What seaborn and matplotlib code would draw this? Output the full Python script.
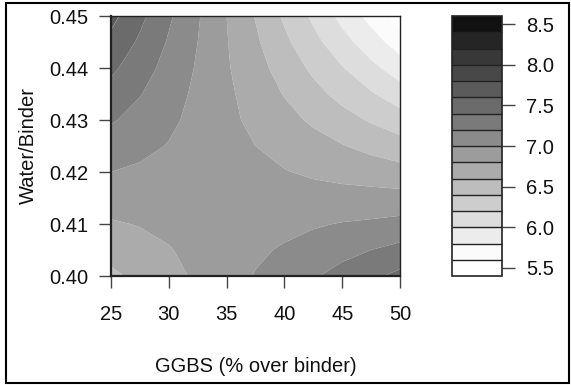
import numpy as np
import matplotlib
matplotlib.use("Agg")
import matplotlib.pyplot as plt
from matplotlib.patches import Rectangle
import seaborn as sns

# ---- data ----
ggbs = [25.0, 27.5, 30.0, 32.5, 35.0, 37.5, 40.0, 42.5, 45.0, 47.5, 50.0]
water_binder = [0.400, 0.405, 0.410, 0.415, 0.420, 0.425, 0.430, 0.435, 0.440, 0.445, 0.450]
strength = [
    [6.56, 6.65, 6.74, 6.83, 6.92, 7.01, 7.10, 7.18, 7.27, 7.36, 7.45],
    [6.67, 6.73, 6.79, 6.85, 6.91, 6.97, 7.02, 7.08, 7.14, 7.20, 7.26],
    [6.78, 6.81, 6.84, 6.87, 6.90, 6.92, 6.95, 6.98, 7.01, 7.03, 7.06],
    [6.89, 6.89, 6.89, 6.88, 6.88, 6.88, 6.88, 6.88, 6.87, 6.87, 6.87],
    [7.00, 6.97, 6.94, 6.90, 6.87, 6.84, 6.81, 6.77, 6.74, 6.71, 6.67],
    [7.11, 7.05, 6.99, 6.92, 6.86, 6.80, 6.73, 6.67, 6.61, 6.54, 6.48],
    [7.22, 7.13, 7.04, 6.94, 6.85, 6.75, 6.66, 6.57, 6.47, 6.38, 6.29],
    [7.33, 7.21, 7.08, 6.96, 6.84, 6.71, 6.59, 6.46, 6.34, 6.22, 6.09],
    [7.44, 7.29, 7.13, 6.98, 6.82, 6.67, 6.52, 6.36, 6.21, 6.05, 5.90],
    [7.55, 7.37, 7.18, 7.00, 6.81, 6.63, 6.44, 6.26, 6.07, 5.89, 5.70],
    [7.66, 7.45, 7.23, 7.02, 6.80, 6.59, 6.37, 6.16, 5.94, 5.73, 5.51],
]
levels = [5.4, 5.6, 5.8, 6.0, 6.2, 6.4, 6.6, 6.8, 7.0, 7.2, 7.4, 7.6, 7.8, 8.0, 8.2, 8.4, 8.6]
cbar_ticks = [5.5, 6.0, 6.5, 7.0, 7.5, 8.0, 8.5]
x_ticks = [25, 30, 35, 40, 45, 50]
y_ticks = [0.40, 0.41, 0.42, 0.43, 0.44, 0.45]
x_label = "GGBS (% over binder)"
y_label = "Water/Binder"

# ---- style ----
sns.set_theme(style="white")
plt.rcParams['font.family'] = ['Liberation Sans', 'DejaVu Sans']
gray_steps = [255, 251, 236, 221, 205, 189, 171, 156, 139, 122, 107, 91, 72, 56, 37, 17]
palette = sns.color_palette([(g / 255, g / 255, g / 255) for g in gray_steps])

FS = 14.5
W, H = 571, 385
fig = plt.figure(figsize=(W / 100, H / 100), dpi=100)
fig.patch.set_facecolor("white")

ax = fig.add_axes([111 / W, (H - 276) / H, 289 / W, 260 / H])
cs = ax.contourf(ggbs, water_binder, strength, levels=levels, colors=palette, antialiased=True)
ax.set_xlim(25, 50)
ax.set_ylim(0.40, 0.45)
ax.set_xticks(x_ticks)
ax.set_yticks(y_ticks)
ax.set_yticklabels([f"{t:.2f}" for t in y_ticks])
ax.tick_params(axis="both", which="major", direction="out", length=8.6, width=1.0,
               color="#444444", labelsize=FS, labelcolor="#111111", bottom=True, left=True)
ax.tick_params(axis="x", pad=12.5)
ax.tick_params(axis="y", pad=7.5)
for sp in ax.spines.values():
    sp.set_color("#222222")
    sp.set_linewidth(1.0)
ax.spines["left"].set_linewidth(1.6)
ax.spines["bottom"].set_linewidth(1.6)
ax.set_xlabel(x_label, fontsize=FS, color="#111111")
ax.set_ylabel(y_label, fontsize=FS, color="#111111")
ax.xaxis.set_label_coords(0.5, -0.31)
ax.yaxis.set_label_coords(-0.252, 0.5)

cax = fig.add_axes([452 / W, (H - 276) / H, 50 / W, 260 / H])
cb = fig.colorbar(cs, cax=cax, ticks=cbar_ticks, drawedges=True)
cb.outline.set_edgecolor("#222222")
cb.outline.set_linewidth(1.2)
cb.dividers.set_color("#222222")
cb.dividers.set_linewidth(1.0)
cax.set_yticklabels([f"{t:.1f}" for t in cbar_ticks])
cax.tick_params(axis="y", direction="out", length=9.5, width=1.0, color="#444444",
                labelsize=FS, labelcolor="#111111", pad=8, right=True)

fig.add_artist(Rectangle((6 / W, 2.5 / H), 563 / W, 380 / H, transform=fig.transFigure,
                         fill=False, edgecolor="black", linewidth=1.5))

fig.savefig("out.png", dpi=100)
